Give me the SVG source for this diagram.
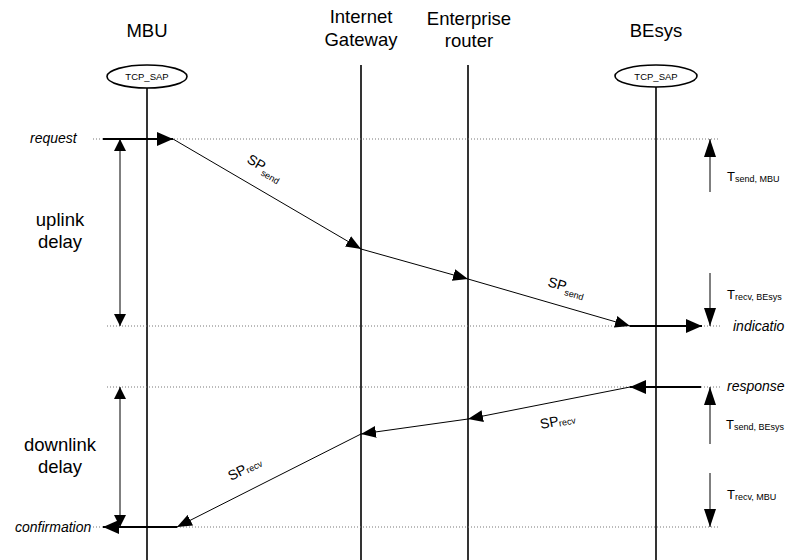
<svg xmlns="http://www.w3.org/2000/svg" width="786" height="560" viewBox="0 0 786 560">
<style>
text{font-family:"Liberation Sans",Arial,sans-serif;fill:#000}
.hdr{font-size:18.5px;text-anchor:middle}
.it{font-size:14px;font-style:italic}
.sap{font-size:9.5px;text-anchor:middle}
.sp{font-size:14px}
.sub{font-size:9px}
.t{font-size:13px}
.ts{font-size:9px}
.life{stroke:#000;stroke-width:1.6;fill:none}
.dot{stroke:#777;stroke-width:1;stroke-dasharray:1 2;fill:none}
.thin{stroke:#000;stroke-width:1;fill:none}
.thick{stroke:#000;stroke-width:2;fill:none}
</style>
<defs>
<marker id="ah" markerUnits="userSpaceOnUse" markerWidth="15" markerHeight="12" refX="15" refY="6" orient="auto"><path d="M0,0 L15,6 L0,12 Z" fill="#000"/></marker>
<marker id="ahb" markerUnits="userSpaceOnUse" markerWidth="16" markerHeight="14" refX="16" refY="7" orient="auto"><path d="M0,0 L16,7 L0,14 Z" fill="#000"/></marker>
<marker id="ahd" markerUnits="userSpaceOnUse" markerWidth="12" markerHeight="12" refX="12" refY="6" orient="auto-start-reverse"><path d="M0,0 L12,6 L0,12 Z" fill="#000"/></marker>
<marker id="aht" markerUnits="userSpaceOnUse" markerWidth="18" markerHeight="12" refX="18" refY="6" orient="auto"><path d="M0,0 L18,6 L0,12 Z" fill="#000"/></marker>
</defs>

<g id="node-mbu">
<text class="hdr" x="147" y="37">MBU</text>
<ellipse cx="147" cy="76.5" rx="40" ry="11.5" fill="#fff" stroke="#000" stroke-width="1.6"/>
<text class="sap" x="147" y="80">TCP_SAP</text>
<line class="life" x1="147" y1="88" x2="147" y2="560"/>
</g>
<g id="node-gateway">
<text class="hdr" x="361" y="23">Internet</text>
<text class="hdr" x="361" y="46">Gateway</text>
<line class="life" x1="361" y1="65" x2="361" y2="560"/>
</g>
<g id="node-router">
<text class="hdr" x="469" y="25">Enterprise</text>
<text class="hdr" x="469" y="47">router</text>
<line class="life" x1="468" y1="65" x2="468" y2="560"/>
</g>
<g id="node-besys">
<text class="hdr" x="656" y="37">BEsys</text>
<ellipse cx="656" cy="76" rx="41" ry="11" fill="#fff" stroke="#000" stroke-width="1.6"/>
<text class="sap" x="656" y="80">TCP_SAP</text>
<line class="life" x1="656" y1="87" x2="656" y2="560"/>
</g>

<g id="guides">
<line class="dot" x1="93" y1="139" x2="720" y2="139"/>
<line class="dot" x1="107" y1="326" x2="720" y2="326"/>
<line class="dot" x1="107" y1="387" x2="720" y2="387"/>
<line class="dot" x1="93" y1="527" x2="720" y2="527"/>
</g>

<g id="labels">
<text class="it" x="30" y="143">request</text>
<text class="it" x="733" y="331">indicatio</text>
<text class="it" x="727" y="391">response</text>
<text class="it" x="15" y="532">confirmation</text>
<text class="hdr" x="60" y="226">uplink</text>
<text class="hdr" x="60" y="248">delay</text>
<text class="hdr" x="60" y="451">downlink</text>
<text class="hdr" x="60" y="473">delay</text>
<text class="sp" transform="translate(246,162) rotate(30)">SP<tspan class="sub" dy="4">send</tspan></text>
<text class="sp" transform="translate(547,286) rotate(16)">SP<tspan class="sub" dy="4">send</tspan></text>
<text class="sp" transform="translate(541,429) rotate(-11)">SP<tspan class="sub" dy="1">recv</tspan></text>
<text class="sp" transform="translate(231,481) rotate(-27)">SP<tspan class="sub" dy="1">recv</tspan></text>
<text class="t" x="727" y="181">T<tspan class="ts" dy="1">send, MBU</tspan></text>
<text class="t" x="727" y="299">T<tspan class="ts" dy="1">recv, BEsys</tspan></text>
<text class="t" x="726" y="429">T<tspan class="ts" dy="1">send, BEsys</tspan></text>
<text class="t" x="727" y="499">T<tspan class="ts" dy="1">recv, MBU</tspan></text>
</g>

<g id="connectors">
<line class="thick" x1="103" y1="139" x2="173" y2="139" marker-end="url(#ahb)"/>
<line class="thin" x1="173" y1="139" x2="361" y2="249" marker-end="url(#ah)"/>
<line class="thin" x1="361" y1="249" x2="468" y2="279" marker-end="url(#ah)"/>
<line class="thin" x1="468" y1="279" x2="630" y2="326" marker-end="url(#ah)"/>
<line class="thick" x1="630" y1="326" x2="702" y2="326" marker-end="url(#ahb)"/>
<line class="thick" x1="701" y1="387" x2="630" y2="387" marker-end="url(#ahb)"/>
<line class="thin" x1="630" y1="387" x2="468" y2="419" marker-end="url(#ah)"/>
<line class="thin" x1="468" y1="419" x2="361" y2="434" marker-end="url(#ah)"/>
<line class="thin" x1="361" y1="434" x2="177" y2="527" marker-end="url(#ah)"/>
<line class="thick" x1="177" y1="527" x2="103" y2="527" marker-end="url(#ahb)"/>
<line class="thin" x1="120" y1="139" x2="120" y2="326" marker-start="url(#ahd)" marker-end="url(#ahd)"/>
<line class="thin" x1="120" y1="387" x2="120" y2="527" marker-start="url(#ahd)" marker-end="url(#ahd)"/>
<line class="thin" x1="710" y1="192" x2="710" y2="139" marker-end="url(#aht)"/>
<line class="thin" x1="710" y1="273" x2="710" y2="326" marker-end="url(#aht)"/>
<line class="thin" x1="710" y1="444" x2="710" y2="387" marker-end="url(#aht)"/>
<line class="thin" x1="710" y1="473" x2="710" y2="527" marker-end="url(#aht)"/>
</g>
</svg>
